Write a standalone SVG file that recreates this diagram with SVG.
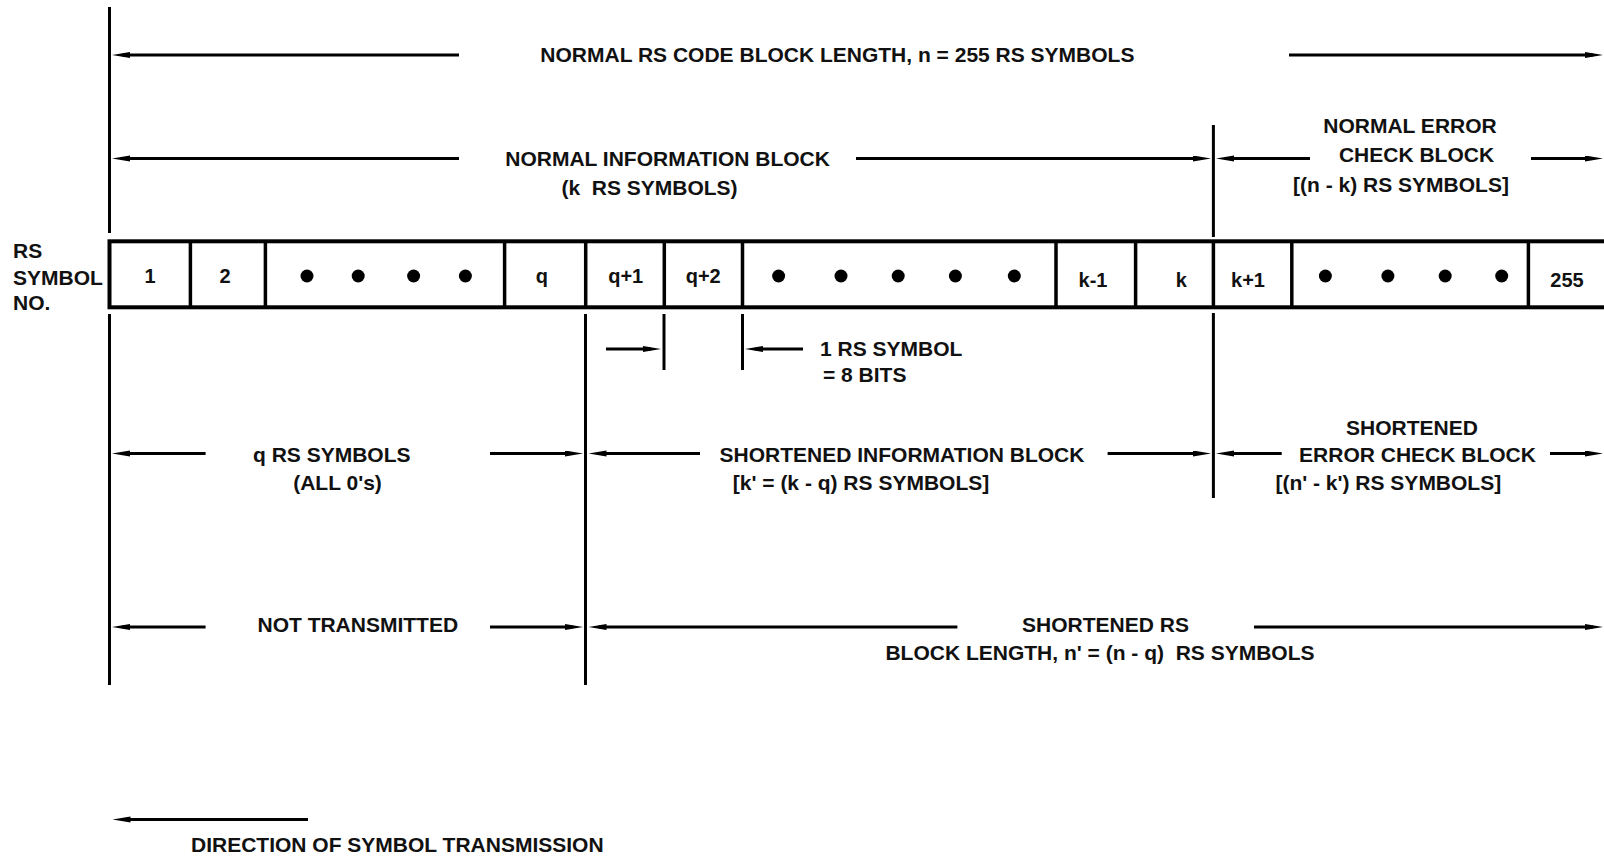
<svg xmlns="http://www.w3.org/2000/svg" width="1604" height="858" viewBox="0 0 1604 858">
<style>
text{font-family:"Liberation Sans",Arial,sans-serif;font-weight:bold;fill:#111}
.lbl{font-size:21px;text-anchor:middle}
.lst{font-size:21px;text-anchor:start}
.cell{font-size:20px;text-anchor:middle}
.ln{stroke:#000;stroke-width:3;fill:none}
.arr{stroke:#000;stroke-width:3;fill:none;marker-end:url(#ah)}
.box{stroke:#000;stroke-width:4;fill:#fff}
.div{stroke:#000;stroke-width:3.5}
.dot{fill:#000}
</style>
<defs>
<marker id="ah" markerUnits="userSpaceOnUse" markerWidth="20" markerHeight="8" refX="8" refY="3" orient="auto">
<path d="M0,0 L18,3 L0,6 z" fill="#000"/>
</marker>
</defs>
<rect width="1604" height="858" fill="#fff"/>

<g id="connectors">
<!-- extension lines -->
<line class="ln" x1="109.5" y1="7" x2="109.5" y2="233"/>
<line class="ln" x1="109.5" y1="314" x2="109.5" y2="685"/>
<line class="ln" x1="1213.4" y1="125" x2="1213.4" y2="237"/>
<line class="ln" x1="1213.4" y1="313" x2="1213.4" y2="498"/>
<line class="ln" x1="585.5" y1="314" x2="585.5" y2="685"/>
<line class="ln" x1="664" y1="314" x2="664" y2="370"/>
<line class="ln" x1="742.5" y1="314" x2="742.5" y2="370"/>
<!-- row 1 -->
<line class="arr" x1="459" y1="55" x2="122" y2="55"/>
<line class="arr" x1="1289" y1="55" x2="1593" y2="55"/>
<!-- row 2 -->
<line class="arr" x1="459" y1="158.5" x2="122" y2="158.5"/>
<line class="arr" x1="856" y1="158.5" x2="1201" y2="158.5"/>
<line class="arr" x1="1310" y1="158.5" x2="1226" y2="158.5"/>
<line class="arr" x1="1531" y1="158.5" x2="1593" y2="158.5"/>
<!-- symbol size arrows -->
<line class="arr" x1="606" y1="349" x2="651" y2="349"/>
<line class="arr" x1="803" y1="349" x2="755" y2="349"/>
<!-- row 3 -->
<line class="arr" x1="205.6" y1="453.5" x2="122" y2="453.5"/>
<line class="arr" x1="490" y1="453.5" x2="573" y2="453.5"/>
<line class="arr" x1="700" y1="453.5" x2="598.5" y2="453.5"/>
<line class="arr" x1="1107.6" y1="453.5" x2="1201" y2="453.5"/>
<line class="arr" x1="1281.7" y1="453.5" x2="1226" y2="453.5"/>
<line class="arr" x1="1550" y1="453.5" x2="1593" y2="453.5"/>
<!-- row 4 -->
<line class="arr" x1="205.6" y1="627" x2="122" y2="627"/>
<line class="arr" x1="490" y1="627" x2="573" y2="627"/>
<line class="arr" x1="957.4" y1="627" x2="598.5" y2="627"/>
<line class="arr" x1="1254" y1="627" x2="1593" y2="627"/>
<!-- direction -->
<line class="arr" x1="308" y1="819.5" x2="122.5" y2="819.5"/>
</g>

<g id="symbol-row">
<rect class="box" x="109.5" y="241.3" width="1520" height="66"/>
<g class="div">
<line x1="190.4" y1="241" x2="190.4" y2="307"/>
<line x1="265.4" y1="241" x2="265.4" y2="307"/>
<line x1="504.6" y1="241" x2="504.6" y2="307"/>
<line x1="585.7" y1="241" x2="585.7" y2="307"/>
<line x1="664.3" y1="241" x2="664.3" y2="307"/>
<line x1="742.5" y1="241" x2="742.5" y2="307"/>
<line x1="1056" y1="241" x2="1056" y2="307"/>
<line x1="1135.6" y1="241" x2="1135.6" y2="307"/>
<line x1="1213.4" y1="241" x2="1213.4" y2="307"/>
<line x1="1291.8" y1="241" x2="1291.8" y2="307"/>
<line x1="1528.4" y1="241" x2="1528.4" y2="307"/>
</g>
</g>
<g id="cell-1"><text class="cell" x="150" y="282.5">1</text></g>
<g id="cell-2"><text class="cell" x="225" y="282.5">2</text></g>
<g id="cell-dots-1">
<circle class="dot" cx="307" cy="276" r="6.5"/><circle class="dot" cx="358.2" cy="276" r="6.5"/><circle class="dot" cx="413.6" cy="276" r="6.5"/><circle class="dot" cx="465.4" cy="276" r="6.5"/>
</g>
<g id="cell-q"><text class="cell" x="541.8" y="282.5">q</text></g>
<g id="cell-q1"><text class="cell" x="625.7" y="282.5">q+1</text></g>
<g id="cell-q2"><text class="cell" x="703.2" y="282.5">q+2</text></g>
<g id="cell-dots-2">
<circle class="dot" cx="778.6" cy="276" r="6.5"/><circle class="dot" cx="841" cy="276" r="6.5"/><circle class="dot" cx="898.2" cy="276" r="6.5"/><circle class="dot" cx="955.4" cy="276" r="6.5"/><circle class="dot" cx="1014.3" cy="276" r="6.5"/>
</g>
<g id="cell-k-1"><text class="cell" x="1093" y="286.5">k-1</text></g>
<g id="cell-k"><text class="cell" x="1181.4" y="286.5">k</text></g>
<g id="cell-k1"><text class="cell" x="1248" y="286.5">k+1</text></g>
<g id="cell-dots-3">
<circle class="dot" cx="1325.4" cy="276" r="6.5"/><circle class="dot" cx="1387.9" cy="276" r="6.5"/><circle class="dot" cx="1445.2" cy="276" r="6.5"/><circle class="dot" cx="1501.7" cy="276" r="6.5"/>
</g>
<g id="cell-255"><text class="cell" x="1567" y="286.5">255</text></g>

<g id="label-rs-symbol-no">
<text class="lst" x="13" y="258.3">RS</text>
<text class="lst" x="13" y="285">SYMBOL</text>
<text class="lst" x="13" y="310">NO.</text>
</g>
<g id="label-normal-code">
<text class="lbl" x="837.4" y="62.3">NORMAL RS CODE BLOCK LENGTH, n = 255 RS SYMBOLS</text>
</g>
<g id="label-normal-info">
<text class="lbl" x="667.6" y="165.7">NORMAL INFORMATION BLOCK</text>
<text class="lbl" x="649.5" y="195" xml:space="preserve">(k  RS SYMBOLS)</text>
</g>
<g id="label-normal-check">
<text class="lbl" x="1410" y="133.3">NORMAL ERROR</text>
<text class="lbl" x="1416.5" y="162.3">CHECK BLOCK</text>
<text class="lbl" x="1401" y="191.7">[(n - k) RS SYMBOLS]</text>
</g>
<g id="label-symbol-size">
<text class="lst" x="820" y="356">1 RS SYMBOL</text>
<text class="lst" x="823" y="381.7">= 8 BITS</text>
</g>
<g id="label-q-symbols">
<text class="lbl" x="331.8" y="461.7">q RS SYMBOLS</text>
<text class="lbl" x="337.5" y="490">(ALL 0's)</text>
</g>
<g id="label-short-info">
<text class="lbl" x="902" y="461.7">SHORTENED INFORMATION BLOCK</text>
<text class="lbl" x="861" y="490">[k' = (k - q) RS SYMBOLS]</text>
</g>
<g id="label-short-check">
<text class="lbl" x="1412" y="435">SHORTENED</text>
<text class="lbl" x="1417.5" y="462.3">ERROR CHECK BLOCK</text>
<text class="lbl" x="1388.3" y="490">[(n' - k') RS SYMBOLS]</text>
</g>
<g id="label-not-transmitted">
<text class="lbl" x="357.8" y="631.7">NOT TRANSMITTED</text>
</g>
<g id="label-short-length">
<text class="lbl" x="1105.5" y="631.7">SHORTENED RS</text>
<text class="lbl" x="1100" y="660" xml:space="preserve">BLOCK LENGTH, n' = (n - q)  RS SYMBOLS</text>
</g>
<g id="label-direction">
<text class="lbl" x="397.3" y="851.7">DIRECTION OF SYMBOL TRANSMISSION</text>
</g>
</svg>
